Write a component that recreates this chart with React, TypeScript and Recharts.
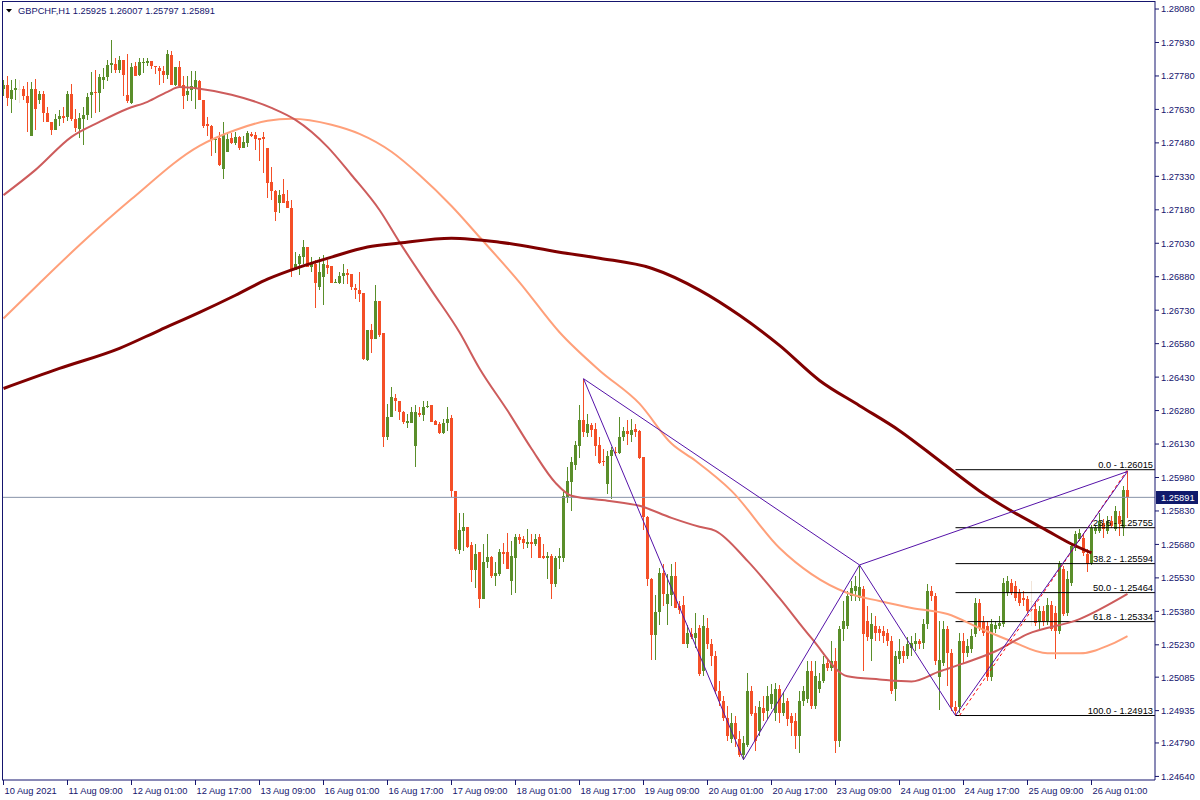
import React from "react";
import { ComposedChart, Bar, Line, XAxis, YAxis, ReferenceLine } from "recharts";

const symbol = "GBPCHF,H1";
const lastQuote = [1.25925, 1.26007, 1.25797, 1.25891];
const bid = 1.25891;

const timeTickIndex = [0, 16, 32, 48, 64, 80, 96, 112, 128, 144, 160, 176, 192, 208, 224, 240, 256, 272];
const timeTickLabels = [
  "10 Aug 2021", "11 Aug 09:00", "12 Aug 01:00", "12 Aug 17:00", "13 Aug 09:00", "16 Aug 01:00",
  "16 Aug 17:00", "17 Aug 09:00", "18 Aug 01:00", "18 Aug 17:00", "19 Aug 09:00", "20 Aug 01:00",
  "20 Aug 17:00", "23 Aug 09:00", "24 Aug 01:00", "24 Aug 17:00", "25 Aug 09:00", "26 Aug 01:00",
];
const priceTicks = [
  1.2808, 1.2793, 1.2778, 1.2763, 1.2748, 1.2733, 1.2718, 1.2703, 1.2688, 1.2673, 1.2658, 1.2643,
  1.2628, 1.2613, 1.2598, 1.2583, 1.2568, 1.2553, 1.2538, 1.2523, 1.25085, 1.24935, 1.2479, 1.2464,
];

// hourly candles, prices in pips (price * 10000)
const open = [
  12772, 12774.1, 12767.8, 12771.5, 12772, 12772.3, 12768.8, 12751.3, 12772.3, 12767.3,
  12770.0, 12761.6, 12757.5, 12753.9, 12758.7, 12760.2, 12759.6, 12770.0, 12758.8, 12754.3,
  12758.8, 12760.3, 12769.3, 12770.9, 12770.3, 12776.3, 12777.4, 12782.9, 12783.5, 12780.5,
  12785.3, 12769.6, 12765.8, 12782.3, 12778.6, 12784.1, 12784.0, 12784.9, 12782.6, 12781.4,
  12780.3, 12778.6, 12787.6, 12773.8, 12782.0, 12774.1, 12769.6, 12771.5, 12772.1, 12775.6,
  12767.3, 12756.6, 12755.7, 12749.1, 12750.1, 12736.2, 12743.7, 12750.1, 12747.9, 12750.6,
  12745.9, 12748.1, 12752.0, 12751.6, 12750.4, 12750.8, 12745.9, 12730.3, 12726.5, 12721.1,
  12725.0, 12721.9, 12719.0, 12690.9, 12693.6, 12696.9, 12701.4, 12692.4, 12693.9, 12683.4,
  12687.9, 12693.1, 12692.7, 12685.2, 12685.2, 12688.3, 12689.7, 12689.1, 12682.9, 12681.9,
  12680.8, 12650.7, 12663.9, 12660.2, 12677.0, 12662.7, 12616.0, 12625.0, 12633.5, 12632.5,
  12627.2, 12622.3, 12622.3, 12612.2, 12627.0, 12626.2, 12629.5, 12630.7, 12623.5, 12622.0,
  12617.8, 12622.3, 12624.6, 12592.1, 12565.6, 12573.8, 12575.6, 12567.6, 12556.4, 12564.4,
  12543.7, 12559.9, 12562.4, 12553.9, 12554.9, 12564.7, 12564.7, 12551.6, 12561.7, 12571.4,
  12570.6, 12568.4, 12569.1, 12568.4, 12571.4, 12562.9, 12562.1, 12562.9, 12550.1, 12562.1,
  12562.1, 12589.4, 12595.8, 12603.8, 12612.3, 12623.8, 12617.8, 12621.7, 12619.8, 12612.7,
  12605.6, 12595.1, 12607.5, 12609.6, 12608.8, 12616.3, 12618.7, 12617.2, 12619.8, 12619.0,
  12607.3, 12580.1, 12552.4, 12527.6, 12537.8, 12555.4, 12541.1, 12545.3, 12553.9, 12540.4,
  12540.7, 12523.4, 12527.9, 12526.1, 12530.5, 12511.2, 12530.5, 12523.3, 12517.9, 12502.2,
  12497.7, 12490.0, 12480.6, 12487.8, 12480.6, 12473.8, 12478.3, 12502.2, 12492.3, 12484.2,
  12494.5, 12493.2, 12496.3, 12492.3, 12503.0, 12492.3, 12497.7, 12490.9, 12488.7, 12481.9,
  12497.7, 12498.6, 12511.2, 12495.4, 12503.0, 12506.7, 12514.7, 12512.5, 12515.7, 12479.7,
  12530.0, 12531.4, 12544.8, 12547.1, 12544.0, 12548.0, 12533.7, 12525.5, 12531.4, 12530.0,
  12529.2, 12528.2, 12524.7, 12503.0, 12516.5, 12520.2, 12517.9, 12521.5, 12523.3, 12524.7,
  12523.8, 12532.3, 12547.1, 12544.8, 12508.5, 12514.7, 12530.0, 12519.2, 12494.9, 12494.9,
  12524.7, 12519.2, 12521.0, 12527.8, 12541.7, 12533.2, 12531.4, 12508.5, 12530.0, 12531.4,
  12532.3, 12546.2, 12550.7, 12549.3, 12546.2, 12544.0, 12543.5, 12542.6, 12539.0, 12533.2,
  12538.2, 12533.7, 12540.8, 12537.2, 12529.2, 12557.0, 12537.2, 12550.7, 12566.4, 12570.5,
  12570.9, 12563.7, 12559.7, 12574.1, 12574.1, 12577.7, 12574.1, 12578.6, 12575.0, 12580.8,
  12575.4, 12592.5,
];
const high = [
  12776, 12777.8, 12776.3, 12776.6, 12776, 12773.6, 12775.1, 12775.1, 12776.8, 12771.1,
  12771.1, 12764.0, 12757.5, 12761.0, 12762.8, 12764.3, 12771.4, 12774.4, 12763.3, 12761.3,
  12764.0, 12770.3, 12779.9, 12780.8, 12778.7, 12781.6, 12785.3, 12793.9, 12786.1, 12786.8,
  12785.3, 12788.0, 12783.8, 12784.1, 12786.1, 12786.1, 12786.1, 12784.9, 12782.6, 12782.6,
  12782.6, 12789.5, 12789.1, 12782.0, 12784.6, 12777.8, 12777.8, 12780.1, 12780.1, 12776.0,
  12767.3, 12759.5, 12756.1, 12750.6, 12753.1, 12757.3, 12752.7, 12752.4, 12753.1, 12751.2,
  12751.1, 12753.5, 12753.1, 12753.1, 12750.4, 12753.1, 12745.9, 12737.3, 12726.8, 12726.8,
  12731.6, 12727.1, 12722.3, 12699.1, 12698.1, 12704.4, 12701.4, 12696.9, 12695.4, 12696.9,
  12697.6, 12695.4, 12692.7, 12687.1, 12690.1, 12693.6, 12691.6, 12689.1, 12684.9, 12690.1,
  12680.8, 12663.9, 12666.9, 12684.1, 12677.0, 12662.7, 12631.0, 12638.7, 12635.5, 12632.5,
  12628.0, 12626.5, 12629.8, 12630.4, 12629.5, 12632.5, 12632.5, 12630.7, 12624.0, 12622.7,
  12624.2, 12629.8, 12625.8, 12592.1, 12582.3, 12582.3, 12575.6, 12569.1, 12568.1, 12564.4,
  12568.1, 12572.6, 12562.9, 12559.9, 12565.9, 12568.8, 12573.3, 12569.6, 12572.6, 12572.6,
  12571.8, 12574.8, 12572.6, 12572.6, 12572.6, 12568.1, 12564.4, 12563.6, 12562.9, 12566.6,
  12591.3, 12602.9, 12607.0, 12614.2, 12630.6, 12642.3, 12626.5, 12622.3, 12622.3, 12616.3,
  12610.8, 12610.0, 12611.8, 12611.5, 12625.3, 12620.5, 12623.8, 12624.3, 12622.0, 12619.3,
  12607.3, 12580.8, 12552.8, 12545.3, 12557.6, 12559.4, 12554.6, 12559.1, 12559.9, 12542.6,
  12544.9, 12532.1, 12530.6, 12537.4, 12531.8, 12536.3, 12535.0, 12525.5, 12520.2, 12506.7,
  12499.9, 12495.4, 12492.3, 12490.9, 12484.2, 12481.9, 12510.2, 12504.4, 12495.4, 12497.7,
  12499.9, 12504.4, 12505.3, 12505.8, 12504.9, 12501.3, 12499.0, 12492.3, 12492.3, 12502.2,
  12504.4, 12515.7, 12515.7, 12515.7, 12510.2, 12517.9, 12516.5, 12524.7, 12521.5, 12531.4,
  12542.6, 12547.1, 12551.6, 12553.8, 12558.8, 12549.3, 12540.4, 12537.2, 12535.9, 12531.4,
  12531.4, 12530.0, 12526.9, 12520.2, 12525.5, 12522.4, 12526.4, 12526.9, 12528.2, 12525.5,
  12534.5, 12550.2, 12549.3, 12546.2, 12533.7, 12533.7, 12531.4, 12521.0, 12497.7, 12528.2,
  12528.2, 12525.5, 12530.0, 12544.0, 12543.5, 12535.9, 12533.7, 12534.5, 12533.7, 12535.9,
  12552.9, 12553.8, 12552.5, 12551.6, 12548.0, 12547.1, 12544.8, 12551.6, 12542.6, 12540.4,
  12540.4, 12544.0, 12542.6, 12540.4, 12560.6, 12558.3, 12556.1, 12568.7, 12574.1, 12575.0,
  12573.2, 12566.0, 12576.8, 12576.8, 12582.2, 12579.5, 12580.8, 12580.8, 12585.3, 12583.1,
  12594.3, 12600.7,
];
const low = [
  12769, 12764.6, 12761.6, 12767.3, 12766, 12767.3, 12753.1, 12751.3, 12753.9, 12765.5,
  12757.2, 12757.2, 12751.6, 12753.9, 12755.4, 12756.9, 12757.8, 12758.0, 12753.1, 12750.1,
  12747.1, 12758.4, 12759.1, 12761.3, 12761.8, 12772.1, 12775.6, 12779.3, 12779.3, 12779.3,
  12768.8, 12766.1, 12765.5, 12777.8, 12777.8, 12779.3, 12782.3, 12781.1, 12778.9, 12774.1,
  12774.8, 12776.6, 12773.8, 12773.7, 12773.6, 12763.3, 12766.6, 12766.6, 12763.1, 12767.0,
  12754.6, 12750.9, 12742.2, 12743.4, 12737.7, 12731.7, 12743.7, 12747.6, 12747.1, 12744.9,
  12745.6, 12746.3, 12750.5, 12744.8, 12740.0, 12734.3, 12723.5, 12722.3, 12713.1, 12716.7,
  12721.1, 12718.6, 12687.9, 12690.9, 12688.6, 12693.6, 12692.4, 12690.1, 12674.1, 12681.9,
  12675.5, 12689.4, 12685.2, 12685.2, 12684.9, 12684.9, 12684.9, 12682.2, 12678.2, 12676.7,
  12650.7, 12650.4, 12653.7, 12660.2, 12661.2, 12611.5, 12614.8, 12625.0, 12628.0, 12623.8,
  12622.0, 12620.2, 12622.3, 12602.8, 12625.0, 12623.5, 12629.2, 12622.7, 12621.7, 12617.5,
  12617.5, 12619.0, 12589.4, 12565.1, 12563.9, 12565.1, 12566.6, 12551.3, 12548.6, 12539.6,
  12543.4, 12557.6, 12553.1, 12549.4, 12553.9, 12559.1, 12557.2, 12545.2, 12546.4, 12568.1,
  12565.8, 12566.6, 12562.1, 12567.3, 12561.8, 12561.4, 12552.4, 12543.7, 12548.9, 12556.9,
  12559.9, 12586.4, 12582.8, 12601.4, 12606.6, 12616.0, 12616.0, 12616.0, 12607.8, 12604.1,
  12603.3, 12590.6, 12588.3, 12607.8, 12608.5, 12614.5, 12612.7, 12613.8, 12616.0, 12606.3,
  12574.4, 12549.4, 12516.4, 12516.4, 12532.1, 12540.4, 12532.1, 12540.4, 12539.3, 12536.9,
  12523.4, 12521.4, 12525.4, 12521.7, 12508.9, 12508.9, 12521.0, 12513.4, 12500.8, 12495.4,
  12488.7, 12479.7, 12478.8, 12477.4, 12472.9, 12471.5, 12477.4, 12490.9, 12475.6, 12481.9,
  12488.7, 12489.6, 12494.1, 12488.7, 12487.8, 12490.9, 12486.4, 12481.9, 12476.1, 12474.7,
  12495.4, 12496.8, 12494.1, 12494.1, 12501.3, 12505.8, 12511.2, 12511.2, 12474.3, 12477.4,
  12524.7, 12530.0, 12542.6, 12542.6, 12542.6, 12511.2, 12524.7, 12515.7, 12524.7, 12524.7,
  12523.8, 12522.4, 12500.8, 12497.7, 12514.3, 12514.7, 12516.5, 12517.9, 12520.2, 12521.0,
  12521.0, 12530.0, 12542.6, 12513.9, 12493.6, 12513.4, 12504.4, 12493.2, 12491.3, 12492.3,
  12514.7, 12517.4, 12519.2, 12526.4, 12529.2, 12526.9, 12506.7, 12506.7, 12528.2, 12530.0,
  12530.9, 12544.8, 12545.3, 12542.6, 12540.4, 12540.4, 12537.2, 12531.4, 12531.4, 12530.0,
  12531.4, 12531.8, 12529.2, 12516.5, 12527.8, 12535.9, 12535.9, 12549.3, 12565.1, 12569.6,
  12562.8, 12555.6, 12558.8, 12572.7, 12573.2, 12570.9, 12572.7, 12575.4, 12574.1, 12571.8,
  12571.8, 12579.7,
];
const close = [
  12774, 12768.1, 12771.8, 12772.7, 12772, 12768.8, 12766.1, 12772.3, 12763.3, 12770.0,
  12761.3, 12757.2, 12753.9, 12758.7, 12760.2, 12759.3, 12770.0, 12758.8, 12754.6, 12759.1,
  12760.6, 12768.5, 12770.9, 12770.3, 12777.5, 12777.4, 12783.1, 12783.8, 12780.8, 12785.3,
  12778.6, 12766.6, 12781.9, 12778.1, 12784.4, 12784.4, 12784.9, 12782.3, 12781.9, 12780.1,
  12778.6, 12788.0, 12773.8, 12782.0, 12773.6, 12768.8, 12771.1, 12773.3, 12776.3, 12767.0,
  12755.7, 12755.7, 12749.1, 12749.7, 12738.1, 12752.1, 12749.8, 12747.9, 12750.6, 12745.6,
  12748.6, 12752.3, 12751.1, 12749.6, 12749.3, 12749.6, 12730.1, 12726.5, 12717.1, 12724.6,
  12721.1, 12718.6, 12690.9, 12693.9, 12697.2, 12701.4, 12692.4, 12693.9, 12685.2, 12690.1,
  12693.6, 12692.1, 12685.2, 12685.5, 12688.3, 12689.7, 12688.6, 12683.4, 12681.9, 12680.4,
  12651.2, 12663.9, 12660.2, 12677.0, 12662.1, 12616.3, 12625.3, 12634.3, 12632.2, 12627.2,
  12622.7, 12623.5, 12627.2, 12627.2, 12626.2, 12629.8, 12630.2, 12623.0, 12621.7, 12617.8,
  12622.3, 12624.2, 12591.8, 12566.1, 12574.4, 12575.6, 12567.0, 12556.6, 12563.9, 12543.7,
  12560.2, 12562.4, 12553.9, 12555.4, 12564.7, 12563.9, 12557.2, 12562.9, 12571.5, 12569.9,
  12568.8, 12569.1, 12568.4, 12570.6, 12562.1, 12562.1, 12562.9, 12550.1, 12562.1, 12562.9,
  12589.8, 12596.6, 12604.8, 12612.7, 12623.8, 12618.3, 12622.0, 12619.3, 12612.3, 12604.4,
  12604.8, 12607.8, 12610.3, 12608.8, 12616.3, 12618.7, 12617.5, 12619.3, 12618.6, 12606.7,
  12580.1, 12552.4, 12527.6, 12537.8, 12555.4, 12545.6, 12545.6, 12553.9, 12539.3, 12538.4,
  12523.4, 12528.4, 12526.4, 12528.4, 12509.8, 12531.4, 12523.3, 12517.9, 12502.2, 12497.7,
  12490.0, 12481.9, 12487.8, 12480.6, 12473.8, 12478.8, 12502.2, 12491.8, 12479.7, 12494.9,
  12492.3, 12499.9, 12500.8, 12503.0, 12492.3, 12496.8, 12489.6, 12487.8, 12481.9, 12497.7,
  12502.2, 12511.2, 12495.4, 12508.9, 12506.7, 12514.3, 12512.5, 12515.7, 12479.7, 12530.0,
  12533.7, 12544.8, 12548.4, 12549.3, 12548.9, 12527.8, 12526.4, 12532.3, 12528.2, 12528.2,
  12526.9, 12524.7, 12502.2, 12517.9, 12520.2, 12517.9, 12523.3, 12523.8, 12524.7, 12523.3,
  12532.3, 12547.1, 12544.8, 12515.7, 12516.1, 12530.0, 12519.2, 12494.9, 12493.2, 12524.7,
  12519.2, 12522.4, 12526.9, 12541.7, 12530.5, 12528.2, 12508.5, 12532.3, 12531.8, 12532.7,
  12550.7, 12551.6, 12546.2, 12544.0, 12541.7, 12543.1, 12538.2, 12542.6, 12532.7, 12538.2,
  12533.2, 12540.8, 12530.0, 12529.2, 12559.2, 12536.8, 12552.5, 12567.3, 12572.7, 12573.2,
  12564.2, 12559.2, 12575.4, 12575.4, 12578.6, 12575.0, 12578.6, 12576.3, 12583.1, 12577.2,
  12592.5, 12589.1,
];

// moving averages: [bar index, pips]
const maFast = [
  [0, 12724.6], [8, 12735.9], [17, 12750.7], [24, 12757.4], [31, 12763.3], [36, 12766.4], [41, 12770.9],
  [44, 12773.0], [49, 12772.3], [57, 12769.6], [67, 12763.7], [73, 12758.3], [81, 12746.2], [87, 12733.6],
  [94, 12717.9], [99, 12703.5], [107, 12681.9], [114, 12663.1], [119, 12646.9], [126, 12628.0],
  [132, 12610.9], [138, 12595.6], [142, 12589.8], [151, 12587.6], [159, 12585.3], [167, 12579.9],
  [174, 12575.9], [178, 12574.1], [186, 12560.6], [194, 12543.9], [202, 12526.0], [211, 12508.9],
  [219, 12507.5], [227, 12506.6], [234, 12511.1], [240, 12514.7], [248, 12520.1], [256, 12527.8],
  [269, 12534.5], [281, 12545.8],
];
const maMid = [
  [0, 12669.3], [9, 12685.1], [19, 12702.2], [32, 12722.8], [49, 12746.7], [58, 12753.8], [66, 12757.9],
  [72, 12758.8], [82, 12756.1], [89, 12752.0], [97, 12744.0], [104, 12733.6], [112, 12719.7],
  [119, 12705.8], [129, 12685.5], [139, 12663.1], [149, 12646.0], [159, 12631.1], [167, 12613.2],
  [173, 12605.5], [182, 12592.0], [194, 12566.4], [202, 12554.7], [211, 12546.2], [219, 12542.6],
  [227, 12539.5], [236, 12536.8], [244, 12530.5], [252, 12524.6], [261, 12519.2], [269, 12519.2],
  [277, 12523.3], [281, 12526.9],
];
const maSlow = [
  [0, 12637.9], [14, 12646.9], [29, 12655.9], [39, 12664.0], [49, 12672.0], [58, 12679.7], [66, 12686.9],
  [74, 12692.3], [82, 12696.8], [91, 12701.3], [99, 12703.1], [112, 12705.3], [124, 12703.5],
  [139, 12699.0], [149, 12696.3], [162, 12691.8], [174, 12682.0], [184, 12670.7], [194, 12657.2],
  [204, 12641.5], [214, 12630.2], [224, 12619.0], [234, 12605.5], [244, 12592.0], [252, 12583.0],
  [261, 12574.1], [267, 12568.2], [272, 12564.2],
];

// swing points (bar index, pips)
const zigzag = [[145, 12642.3], [185, 12471.5], [214, 12558.8], [238, 12491.3], [281, 12600.7]];
const swingACE = [[145, 12642.3], [214, 12558.8], [281, 12600.7]];
const fibTrend = [[239, 12491.3], [281, 12601.5]];
const fibStart = 238;
const fibLevels = [
  ["0.0", 1.26015], ["23.6", 1.25755], ["38.2", 1.25594],
  ["50.0", 1.25464], ["61.8", 1.25334], ["100.0", 1.24913],
];

const BULL = "#5a8e2a";
const BEAR = "#f44f27";
const DOJI = "#f1e4d8";
const INK = "#15156e";
const FONT = "'Liberation Sans', Arial, sans-serif";
const FS = 9.3;
const X_DOMAIN = [-0.375, 287.875];
const Y_DOMAIN = [1.24624, 1.28116];

const P = (v: number) => v / 10000;

const rows: any[] = open.map((o, i) => ({
  i,
  o: P(o),
  h: P(high[i]),
  l: P(low[i]),
  c: P(close[i]),
  hl: [P(low[i]), P(high[i])],
}));
const put = (pts: number[][], key: string) => pts.forEach(([i, v]) => { rows[i][key] = P(v); });
put(maFast, "ma1");
put(maMid, "ma2");
put(maSlow, "ma3");
put(zigzag, "zz");
put(swingACE, "ace");
put(fibTrend, "ft");

const Candle = (props: any) => {
  const { x, y, width, height, payload } = props;
  if (!payload || x == null || y == null) return null;
  const { o, h, l, c } = payload;
  const top = Math.min(y, y + height);
  const span = Math.abs(height);
  const k = h > l ? span / (h - l) : 0;
  const py = (v: number) => top + (h - v) * k;
  const cx = Math.floor(x + width / 2) + 0.5;
  const color = c === o ? DOJI : c > o ? BULL : BEAR;
  const bTop = Math.round(py(Math.max(o, c)));
  const bBot = Math.round(py(Math.min(o, c)));
  return (
    <g shapeRendering="crispEdges">
      <line x1={cx} x2={cx} y1={top} y2={top + span} stroke={color} strokeWidth={1} />
      {c === o ? (
        <line x1={cx - 1.5} x2={cx + 1.5} y1={bTop + 0.5} y2={bTop + 0.5} stroke={color} />
      ) : (
        <rect x={cx - 1.5} y={bTop} width={3} height={Math.max(1, bBot - bTop)} fill={color} />
      )}
    </g>
  );
};

const TimeTick = (p: any) => {
  const idx = timeTickIndex.indexOf(p.payload.value);
  return (
    <text x={p.x + 1} y={p.y + 7} fontSize={FS} fontFamily={FONT} fill={INK} textAnchor="start">
      {timeTickLabels[idx]}
    </text>
  );
};

const PriceTick = (p: any) => (
  <text x={p.x} y={p.y + 3.4} fontSize={FS} fontFamily={FONT} fill={INK} textAnchor="start">
    {Number(p.payload.value).toFixed(5)}
  </text>
);

const fibLabel = (text: string) => (p: any) => {
  const vb = p.viewBox || {};
  return (
    <text x={(vb.x || 0) + (vb.width || 0) - 2} y={(vb.y || 0) - 2} fontSize={FS} fontFamily={FONT}
      fill="#000" textAnchor="end">
      {text}
    </text>
  );
};

const bidLabel = (p: any) => {
  const vb = p.viewBox || {};
  const x = (vb.x || 0) + (vb.width || 0);
  const y = vb.y || 0;
  return (
    <g>
      <rect x={x + 0.5} y={Math.round(y) - 6.5} width={42} height={13} fill="#101a6c" shapeRendering="crispEdges" />
      <text x={x + 6} y={y + 3.4} fontSize={FS} fontFamily={FONT} fill="#fff">{bid.toFixed(5)}</text>
    </g>
  );
};

export default function App() {
  return (
    <div style={{ position: "absolute", left: 0, top: 0, width: 1200, height: 800, background: "#fff" }}>
      <ComposedChart width={1200} height={800} data={rows} margin={{ top: 1, right: 0, bottom: 0, left: 2 }}>
        <XAxis dataKey="i" type="number" domain={X_DOMAIN} allowDataOverflow ticks={timeTickIndex} interval={0}
          height={20} tickSize={5} stroke={INK} tick={<TimeTick />} />
        <YAxis orientation="right" type="number" domain={Y_DOMAIN} allowDataOverflow ticks={priceTicks}
          interval={0} width={45} tickSize={4} tickMargin={2} stroke={INK} tick={<PriceTick />} />
        {fibLevels.map(([name, v]) => (
          <ReferenceLine key={name as string}
            segment={[{ x: fibStart, y: v as number }, { x: X_DOMAIN[1], y: v as number }]}
            stroke="#000" strokeWidth={1} label={fibLabel(`${name} - ${(v as number).toFixed(5)}`)} />
        ))}
        <ReferenceLine y={bid} stroke="#8793a8" strokeWidth={1} label={bidLabel} />
        <Bar dataKey="hl" barSize={3} shape={<Candle />} isAnimationActive={false} />
        <Line dataKey="ma2" type="monotone" stroke="#ffa07a" strokeWidth={2} dot={false} activeDot={false}
          connectNulls isAnimationActive={false} />
        <Line dataKey="ma1" type="monotone" stroke="#cd5c5c" strokeWidth={2} dot={false} activeDot={false}
          connectNulls isAnimationActive={false} />
        <Line dataKey="ma3" type="monotone" stroke="#800000" strokeWidth={3} dot={false} activeDot={false}
          connectNulls isAnimationActive={false} />
        <Line dataKey="ft" type="linear" stroke="#ff0000" strokeWidth={1} strokeDasharray="3 3" dot={false}
          activeDot={false} connectNulls isAnimationActive={false} />
        <Line dataKey="ace" type="linear" stroke="#5512a8" strokeWidth={1} dot={false} activeDot={false}
          connectNulls isAnimationActive={false} />
        <Line dataKey="zz" type="linear" stroke="#5512a8" strokeWidth={1} dot={false} activeDot={false}
          connectNulls isAnimationActive={false} />
      </ComposedChart>
      <svg width={1200} height={800} style={{ position: "absolute", left: 0, top: 0, pointerEvents: "none" }}>
        <line x1={2.5} x2={2.5} y1={1} y2={780} stroke={INK} />
        <line x1={2} x2={1155} y1={1.5} y2={1.5} stroke={INK} />
        <polygon points="6,9 12,9 9,12.5" fill="#000" />
        <text x={18} y={14} fontSize={FS} fontFamily={FONT} fill={INK}>
          {`${symbol}  ${lastQuote.map((q) => q.toFixed(5)).join(" ")}`}
        </text>
      </svg>
    </div>
  );
}
